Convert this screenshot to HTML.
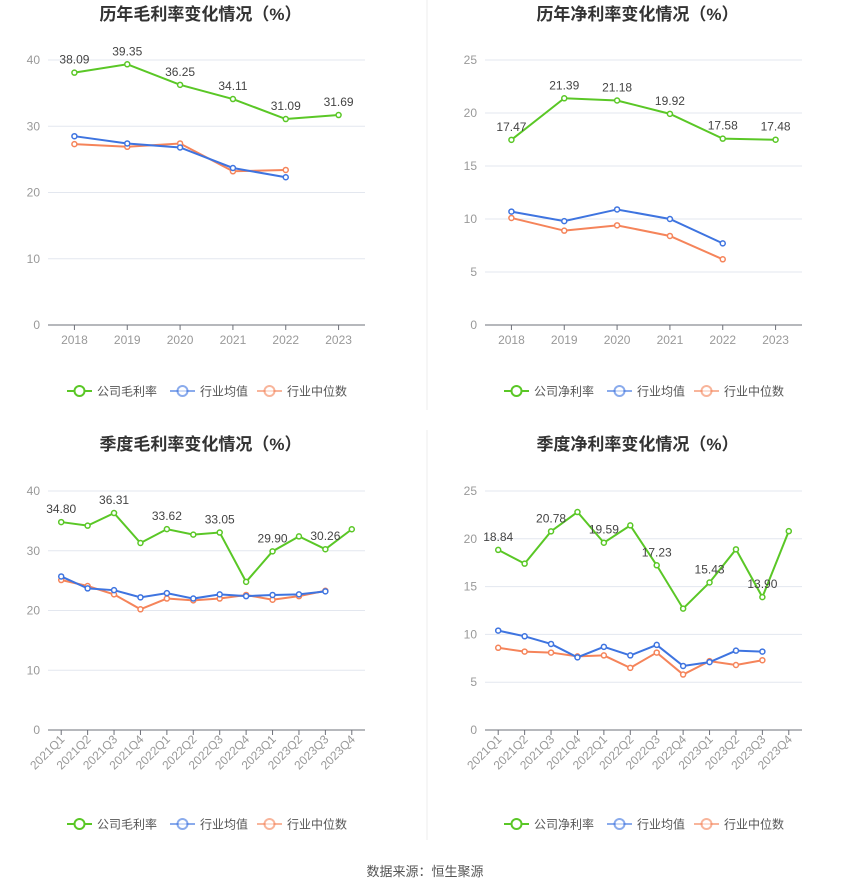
<!DOCTYPE html>
<html><head><meta charset="utf-8">
<style>
body{margin:0;background:#fff;font-family:"Liberation Sans","Noto Sans CJK SC",sans-serif;}
svg text{font-family:"Liberation Sans","Noto Sans CJK SC",sans-serif;}
</style></head>
<body>
<svg id="s" width="850" height="891" viewBox="0 0 850 891">
<line x1="427" y1="0" x2="427" y2="410" stroke="#eee"/>
<line x1="427" y1="430" x2="427" y2="840" stroke="#eee"/>
<text x="425" y="876" text-anchor="middle" font-size="13" fill="#555">数据来源：恒生聚源</text>
</svg>
<script>
const yearCats=["2018","2019","2020","2021","2022","2023"];
const qCats=["2021Q1","2021Q2","2021Q3","2021Q4","2022Q1","2022Q2","2022Q3","2022Q4","2023Q1","2023Q2","2023Q3","2023Q4"];
const grossCompany=[38.09,39.35,36.25,34.11,31.09,31.69];
const grossAvg=[28.5,27.4,26.8,23.7,22.3];
const grossMed=[27.3,26.9,27.4,23.2,23.4];
const netCompany=[17.47,21.39,21.18,19.92,17.58,17.48];
const netAvg=[10.7,9.8,10.9,10.0,7.7];
const netMed=[10.1,8.9,9.4,8.4,6.2];
const qGrossCompany=[34.80,34.2,36.31,31.3,33.62,32.7,33.05,24.8,29.90,32.4,30.26,33.6];
const qGrossAvg=[25.7,23.7,23.4,22.2,22.9,22.0,22.7,22.4,22.6,22.7,23.2];
const qGrossMed=[25.1,24.1,22.7,20.2,22.0,21.7,22.0,22.6,21.8,22.4,23.3];
const qNetCompany=[18.84,17.4,20.78,22.8,19.59,21.4,17.23,12.7,15.43,18.9,13.90,20.8];
const qNetAvg=[10.4,9.8,9.0,7.6,8.7,7.8,8.9,6.7,7.1,8.3,8.2];
const qNetMed=[8.6,8.2,8.1,7.7,7.8,6.5,8.1,5.8,7.2,6.8,7.3];
const grossTicks=[0,10,20,30,40];
const netTicks=[0,5,10,15,20,25];

const NS="http://www.w3.org/2000/svg";
const svg=document.getElementById('s');
function mk(tag,attrs,parent,txt){const e=document.createElementNS(NS,tag);for(const k in attrs)e.setAttribute(k,attrs[k]);if(txt!=null)e.textContent=txt;(parent||svg).appendChild(e);return e;}

function chart(o){
  const g=mk('g',{});
  
  
  const L=o.x0,R=o.x0+317,B=o.bottom,T=o.top,max=o.ticks[o.ticks.length-1];
  const y=v=>B-(v/max)*(B-T);
  const bw=(R-L)/o.cats.length;
  const x=i=>L+bw*(i+0.5);
  const t=mk('text',{x:(L+R)/2-6,y:o.titleY,'text-anchor':'middle','font-size':17,'font-weight':'bold',fill:'#333'},g,o.title);
  
  
  o.ticks.forEach(v=>{
    if(v>0){const gl=mk('line',{x1:L,x2:R,y1:y(v),y2:y(v),stroke:'#e3e7ef'},g);
      
      }
    const tl=mk('text',{x:L-8,y:y(v)+4,'text-anchor':'end','font-size':12,fill:'#999'},g,String(v));
    
    
  });
  const ax=mk('line',{x1:L,x2:R,y1:B,y2:B,stroke:'#6e7079'},g);
  
  
  o.cats.forEach((c,i)=>{
    mk('line',{x1:x(i),x2:x(i),y1:B,y2:B+5,stroke:'#6e7079'},g);
    let lab;
    if(o.rot){lab=mk('text',{x:x(i)+4,y:B+10,'text-anchor':'end','font-size':12,fill:'#999',transform:`rotate(-45 ${x(i)+4} ${B+10})`},g,c);}
    else lab=mk('text',{x:x(i),y:B+19,'text-anchor':'middle','font-size':12,fill:'#999'},g,c);
    
    
  });
  const series=[[o.med,'#f5845a','industry-median-line'],[o.avg,'#3e74e0','industry-average-line'],[o.comp,'#5ac726','company-line']];
  series.forEach(([d,c,n])=>{
    const p=mk('polyline',{points:d.map((v,i)=>x(i)+','+y(v)).join(' '),fill:'none',stroke:c,'stroke-width':2},g);
    
    
    d.forEach((v,i)=>{const pt=mk('circle',{cx:x(i),cy:y(v),r:2.5,fill:'#fff',stroke:c,'stroke-width':1.5},g);
      
      });
  });
  o.comp.forEach((v,i)=>{
    if(o.step&&i%2)return;
    const lt=mk('text',{x:x(i),y:y(v)-9,'text-anchor':'middle','font-size':12,fill:'#444'},g,v.toFixed(2));
    
    
  });
  const leg=[[o.compName,'#5ac726',o.lx],['行业均值','#3e74e0',o.lx+103],['行业中位数','#f5845a',o.lx+190]];
  leg.forEach(([n,c,lx],k)=>{
    const lg=mk('g',{},g);
    
    
    const op=k==0?1:0.6;
    mk('line',{x1:lx,x2:lx+25,y1:o.ly,y2:o.ly,stroke:c,'stroke-width':2,opacity:op},lg);
    mk('circle',{cx:lx+12.5,cy:o.ly,r:5,fill:'#fff',stroke:c,'stroke-width':2,opacity:op},lg);
    mk('text',{x:lx+30,y:o.ly+4.5,'font-size':12,fill:'#555'},lg,n);
  });
}
chart({name:'annual-gross-margin-chart',title:'历年毛利率变化情况（%）',titleY:20,x0:48,top:60,bottom:325,ticks:grossTicks,cats:yearCats,comp:grossCompany,avg:grossAvg,med:grossMed,compName:'公司毛利率',lx:67,ly:391});
chart({name:'annual-net-margin-chart',title:'历年净利率变化情况（%）',titleY:20,x0:485,top:60,bottom:325,ticks:netTicks,cats:yearCats,comp:netCompany,avg:netAvg,med:netMed,compName:'公司净利率',lx:504,ly:391});
chart({name:'quarterly-gross-margin-chart',title:'季度毛利率变化情况（%）',titleY:450,x0:48,top:491,bottom:730,ticks:grossTicks,cats:qCats,comp:qGrossCompany,avg:qGrossAvg,med:qGrossMed,compName:'公司毛利率',lx:67,ly:824,rot:true,step:true});
chart({name:'quarterly-net-margin-chart',title:'季度净利率变化情况（%）',titleY:450,x0:485,top:491,bottom:730,ticks:netTicks,cats:qCats,comp:qNetCompany,avg:qNetAvg,med:qNetMed,compName:'公司净利率',lx:504,ly:824,rot:true,step:true});
</script>
</body></html>
